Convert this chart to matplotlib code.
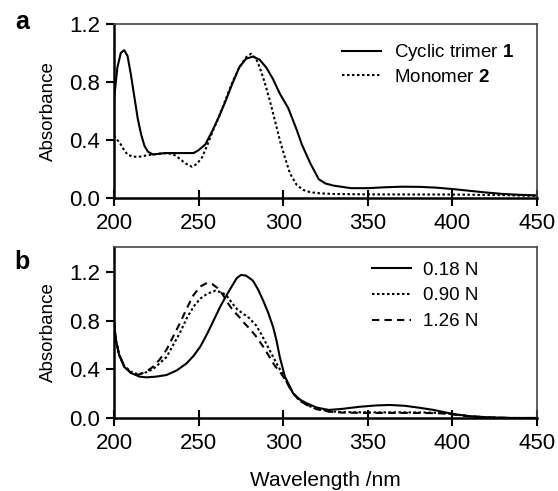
import matplotlib
matplotlib.use("Agg")
import matplotlib.pyplot as plt

plt.rcParams['font.family'] = ['Liberation Sans', 'DejaVu Sans']
plt.rcParams['mathtext.fontset'] = 'custom'
plt.rcParams['mathtext.rm'] = 'Liberation Sans'
plt.rcParams['mathtext.bf'] = 'Liberation Sans:bold'

# panel a: cyclic trimer 1 (solid)
wl_trimer = [200, 202, 204, 206, 208, 210, 212, 214, 216, 218, 220, 223, 230, 240, 247,
             250, 254, 258, 262, 266, 270, 274, 278, 282, 286, 290, 294, 298, 303, 308,
             311, 316, 321, 325, 330, 336, 340, 350, 360, 370, 380, 390, 400, 410, 420,
             430, 440, 450]
abs_trimer = [0.68, 0.90, 1.00, 1.02, 0.98, 0.85, 0.70, 0.55, 0.44, 0.36, 0.32, 0.30, 0.31, 0.31, 0.31,
              0.33, 0.37, 0.46, 0.56, 0.67, 0.79, 0.90, 0.96, 0.975, 0.955, 0.90, 0.82, 0.72, 0.62, 0.47,
              0.37, 0.24, 0.13, 0.10, 0.085, 0.075, 0.068, 0.068, 0.074, 0.078, 0.077, 0.072, 0.062, 0.05, 0.038,
              0.028, 0.022, 0.018]

# panel a: monomer 2 (dotted)
wl_mono = [200, 202, 204, 206, 208, 211, 215, 220, 226, 232, 236, 239, 242, 246, 249,
           252, 255, 258, 262, 266, 270, 274, 278, 281, 284, 286, 289, 292, 295, 298,
           301, 304, 308, 312, 316, 322, 330, 350, 400, 430, 450]
abs_mono = [0.43, 0.40, 0.37, 0.33, 0.30, 0.285, 0.285, 0.295, 0.305, 0.31, 0.295, 0.27, 0.24, 0.216, 0.235,
            0.28, 0.36, 0.45, 0.56, 0.68, 0.80, 0.90, 0.97, 0.995, 0.96, 0.905, 0.80, 0.676, 0.54, 0.40,
            0.28, 0.17, 0.09, 0.055, 0.04, 0.032, 0.028, 0.025, 0.024, 0.02, 0.015]

# panel b: 0.18 N (solid)
wl_018 = [200, 201, 203, 206, 210, 215, 219, 225, 231, 237, 243, 247, 251, 255, 259,
          263, 267, 270, 272.5, 275, 278, 282, 285, 288, 291, 294, 296, 298, 301, 304,
          306, 310, 314, 320, 327, 335, 345, 355, 363, 372, 380, 389, 396, 402, 410,
          422, 435, 450]
abs_018 = [0.80, 0.65, 0.52, 0.42, 0.37, 0.34, 0.334, 0.34, 0.353, 0.39, 0.45, 0.51, 0.586, 0.69, 0.805,
           0.92, 1.02, 1.09, 1.148, 1.175, 1.17, 1.13, 1.06, 0.97, 0.87, 0.75, 0.64, 0.50, 0.34, 0.257,
           0.20, 0.15, 0.12, 0.085, 0.066, 0.075, 0.092, 0.103, 0.107, 0.10, 0.085, 0.066, 0.045, 0.03, 0.015,
           0.005, 0.0, 0.0]

# panel b: 0.90 N (dotted)
wl_090 = [200, 201, 203, 206, 210, 214, 218, 223, 227, 231, 235, 239, 243, 247, 251,
          255, 260, 264, 267, 270, 273, 276, 280, 284, 287, 290, 293, 296, 300, 303,
          306, 310, 315, 320, 327, 335, 350, 370, 385, 395, 402, 410, 420, 435, 450]
abs_090 = [0.80, 0.65, 0.52, 0.43, 0.38, 0.36, 0.37, 0.40, 0.45, 0.50, 0.60, 0.70, 0.82, 0.915, 0.98,
           1.02, 1.046, 1.03, 0.997, 0.94, 0.89, 0.86, 0.82, 0.76, 0.69, 0.61, 0.53, 0.45, 0.353, 0.27,
           0.20, 0.14, 0.10, 0.075, 0.055, 0.048, 0.046, 0.046, 0.045, 0.04, 0.028, 0.015, 0.005, 0.0, 0.0]

# panel b: 1.26 N (dashed)
wl_126 = [200, 201, 203, 206, 210, 214, 219, 223, 227, 231, 235, 239, 243, 247, 251,
          255, 258, 261, 264, 267, 270, 274, 277, 281, 284, 288, 292, 295, 298, 300,
          303, 306, 310, 315, 320, 327, 335, 350, 370, 385, 395, 402, 410, 420, 435, 450]
abs_126 = [0.80, 0.65, 0.52, 0.43, 0.37, 0.353, 0.38, 0.42, 0.48, 0.56, 0.67, 0.78, 0.90, 1.01, 1.08,
           1.11, 1.10, 1.07, 1.02, 0.95, 0.89, 0.83, 0.78, 0.72, 0.67, 0.59, 0.50, 0.43, 0.38, 0.34,
           0.27, 0.20, 0.14, 0.10, 0.072, 0.052, 0.044, 0.042, 0.042, 0.041, 0.037, 0.026, 0.014, 0.005, 0.0, 0.0]

x_ticks = [200, 250, 300, 350, 400, 450]
y_ticks = [0.0, 0.4, 0.8, 1.2]

fig = plt.figure(figsize=(5.58, 4.91), dpi=100)
ax_a = fig.add_axes([0.2043, 0.5967, 0.758, 0.3544])
ax_b = fig.add_axes([0.2043, 0.1487, 0.758, 0.3483])

lw = 1.5
ax_a.plot(wl_trimer, abs_trimer, color='black', lw=lw, label=r'Cyclic trimer $\mathbf{1}$')
ax_a.plot(wl_mono, abs_mono, color='black', lw=lw, dashes=(1.2, 1.2), label=r'Monomer $\mathbf{2}$')
ax_a.set_ylim(0, 1.2)

ax_b.plot(wl_018, abs_018, color='black', lw=lw, label='0.18 N')
ax_b.plot(wl_090, abs_090, color='black', lw=lw, dashes=(1.2, 1.2), label='0.90 N')
ax_b.plot(wl_126, abs_126, color='black', lw=lw, dashes=(3.5, 2.5), label='1.26 N')
ax_b.set_ylim(0, 1.405)

for ax in (ax_a, ax_b):
    ax.set_xlim(200, 450)
    ax.set_xticks(x_ticks)
    ax.set_yticks(y_ticks)
    ax.set_yticklabels(['%.1f' % v for v in y_ticks])
    ax.tick_params(axis='x', direction='inout', length=12, width=1.5, labelsize=16, pad=5)
    ax.tick_params(axis='y', direction='out', length=6, width=1.5, labelsize=16, pad=4)
    for s in ('left', 'bottom'):
        ax.spines[s].set_linewidth(1.8)
        ax.spines[s].set_color('black')
    for s in ('top', 'right'):
        ax.spines[s].set_linewidth(1.2)
        ax.spines[s].set_color('#444444')
    ax.set_ylabel('Absorbance', fontsize=13.5, labelpad=9)

ax_a.legend(loc='upper left', bbox_to_anchor=(0.539, 0.895), frameon=False, fontsize=13.5,
            handlelength=2.1, handletextpad=0.7, labelspacing=0.3, borderaxespad=0, borderpad=0)
ax_b.legend(loc='upper left', bbox_to_anchor=(0.609, 0.915), frameon=False, fontsize=13.5,
            handlelength=2.1, handletextpad=0.64, labelspacing=0.46, borderaxespad=0, borderpad=0)

ax_b.set_xlabel('Wavelength /nm', fontsize=15, labelpad=12)

fig.text(0.04, 0.955, 'a', fontsize=18, fontweight='bold', ha='center', va='center')
fig.text(0.04, 0.467, 'b', fontsize=18, fontweight='bold', ha='center', va='center')

fig.savefig('out.png', dpi=100)
